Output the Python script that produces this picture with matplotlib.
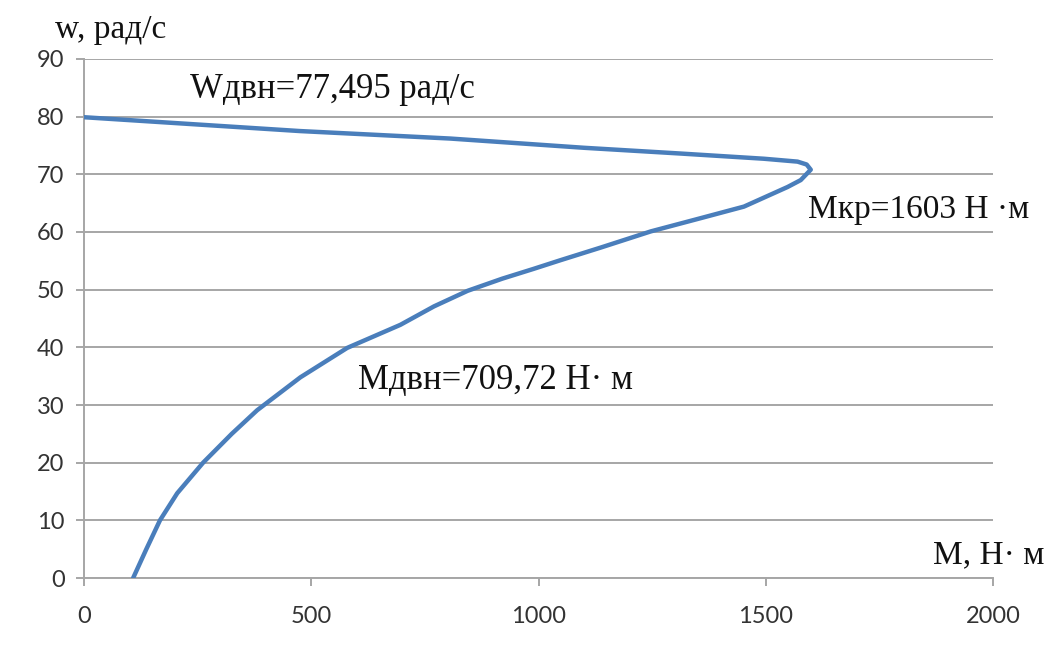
import matplotlib.pyplot as plt

# механическая характеристика двигателя: момент М (Н·м) от угловой скорости w (рад/с)
moment = [108, 137, 167, 205, 262, 325, 381, 476, 579, 696, 770, 844, 920,
          989, 1048, 1137, 1247, 1357, 1452, 1548, 1577, 1599, 1590, 1570,
          1496, 1313, 1100, 806, 475, 0]
omega = [0, 5, 10, 14.7, 20, 25, 29.1, 34.8, 39.9, 43.9, 47.1, 49.8, 51.9,
         53.6, 55.1, 57.3, 60.1, 62.4, 64.4, 67.8, 69.0, 70.8, 71.7, 72.2,
         72.7, 73.6, 74.6, 76.2, 77.5, 79.9]

x_ticks = [0, 500, 1000, 1500, 2000]
y_ticks = [0, 10, 20, 30, 40, 50, 60, 70, 80, 90]

fig = plt.figure(figsize=(10.48, 6.48), dpi=100)
ax = fig.add_axes([0.0802, 0.108, 0.8673, 0.801])

ax.plot(moment, omega, color="#4a7ebb", lw=3.2, solid_capstyle="round",
        solid_joinstyle="round", zorder=3)

ax.set_xlim(0, 2000)
ax.set_ylim(0, 90)
ax.set_xticks(x_ticks)
ax.set_yticks(y_ticks)
ax.grid(axis="y", color="#a6a6a6", lw=1.4)
ax.set_axisbelow(True)
for s in ["top", "right"]:
    ax.spines[s].set_visible(False)
for s in ["left", "bottom"]:
    ax.spines[s].set_color("#a6a6a6")
    ax.spines[s].set_linewidth(1.4)
ax.tick_params(axis="x", length=6, width=1.4, color="#a6a6a6", pad=14,
               labelsize=17, labelcolor="#333333")
ax.tick_params(axis="y", length=6, width=1.4, color="#a6a6a6", pad=8,
               labelsize=17, labelcolor="#333333")
for lbl in ax.get_xticklabels() + ax.get_yticklabels():
    lbl.set_family("Lato")

serif = "Liberation Serif"
ink = "#111111"
fig.text(55 / 1048, 1 - 30 / 648, "w, рад/с", family=serif, fontsize=24,
         ha="left", va="center", color=ink)
fig.text(190 / 1048, 1 - 90 / 648, "Wдвн=77,495 рад/с", family=serif,
         fontsize=25, ha="left", va="center", color=ink)
fig.text(808 / 1048, 1 - 210 / 648, "Мкр=1603 Н ·м", family=serif,
         fontsize=24, ha="left", va="center", color=ink)
fig.text(358 / 1048, 1 - 380 / 648, "Мдвн=709,72 Н· м", family=serif,
         fontsize=25, ha="left", va="center", color=ink)
fig.text(933 / 1048, 1 - 555 / 648, "М, Н· м", family=serif, fontsize=24,
         ha="left", va="center", color=ink)

fig.savefig("out.png", dpi=100, facecolor="white")
